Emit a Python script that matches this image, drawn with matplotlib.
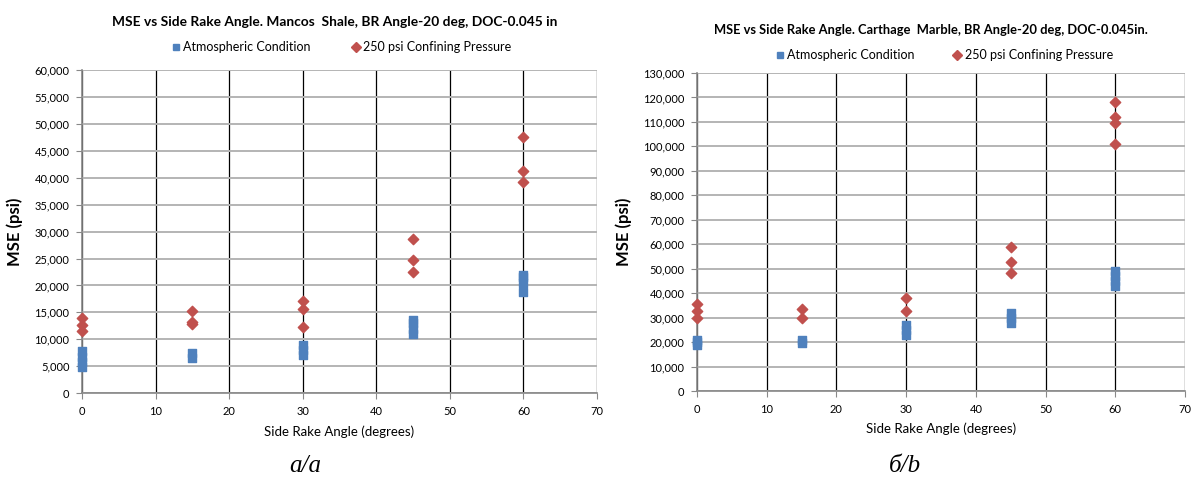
import matplotlib
matplotlib.use("Agg")
import matplotlib.pyplot as plt
from matplotlib.ticker import FuncFormatter, MultipleLocator
from matplotlib.lines import Line2D

# Mancos Shale (left)
shale_atm_x = [0, 0, 0, 0, 15, 15, 30, 30, 30, 45, 45, 45, 45, 60, 60, 60, 60]
shale_atm_y = [4800, 5800, 6800, 7800, 6500, 7500, 7000, 8000, 9000,
               11000, 12000, 13000, 13500, 18800, 20500, 21500, 22000]
shale_250_x = [0, 0, 0, 15, 15, 15, 30, 30, 30, 45, 45, 45, 60, 60, 60]
shale_250_y = [11500, 12700, 14000, 12800, 13200, 15200, 12300, 15600, 17100,
               22500, 24800, 28600, 39200, 41200, 47500]

# Carthage Marble (right)
marble_atm_x = [0, 0, 0, 15, 15, 30, 30, 30, 45, 45, 45, 60, 60, 60, 60]
marble_atm_y = [19000, 20000, 21000, 19500, 21000, 23000, 25000, 27000,
                28000, 30000, 32000, 43000, 45000, 47000, 49000]
marble_250_x = [0, 0, 0, 15, 15, 30, 30, 45, 45, 45, 60, 60, 60, 60]
marble_250_y = [29700, 32700, 35600, 30000, 33500, 32700, 37900,
                48100, 52700, 59000, 101000, 109400, 112100, 118300]

titles = ["MSE vs Side Rake Angle. Mancos  Shale, BR Angle-20 deg, DOC-0.045 in",
          "MSE vs Side Rake Angle. Carthage  Marble, BR Angle-20 deg, DOC-0.045in."]
captions = ["а/a", "б/b"]
legend_labels = ["Atmospheric Condition", "250 psi Confining Pressure"]

BLUE = "#4F81BD"
RED = "#C0504D"
FONT = ["Lato", "DejaVu Sans"]
plt.rcParams["font.family"] = FONT

fig = plt.figure(figsize=(11.92, 4.8), dpi=100)
ax1 = fig.add_axes([0.0688, 0.181, 0.432, 0.673])
ax2 = fig.add_axes([0.5847, 0.1854, 0.4094, 0.6626])

setups = [
    (ax1, shale_atm_x, shale_atm_y, shale_250_x, shale_250_y, 60000, 5000),
    (ax2, marble_atm_x, marble_atm_y, marble_250_x, marble_250_y, 130000, 10000),
]

for ax, ax_x, ax_y, px, py, ymax, ystep in setups:
    ax.set_xlim(0, 70)
    ax.set_ylim(0, ymax)
    ax.xaxis.set_major_locator(MultipleLocator(10))
    ax.yaxis.set_major_locator(MultipleLocator(ystep))
    ax.yaxis.set_major_formatter(FuncFormatter(lambda v, p: f"{int(v):,}"))
    ax.grid(axis="y", color="#b4b4b4", linewidth=1.4, zorder=0)
    ax.grid(axis="x", color="black", linewidth=0.9, zorder=0)
    for s in ["top", "right"]:
        ax.spines[s].set_visible(False)
    for s in ["left", "bottom"]:
        ax.spines[s].set_color("#888888")
        ax.spines[s].set_linewidth(1.2)
    ax.tick_params(axis="both", colors="#888888", length=4, labelsize=8, pad=5)
    ax.tick_params(axis="both", labelcolor="black")
    ax.scatter(ax_x, ax_y, marker="s", s=30, color=BLUE, zorder=3, clip_on=False)
    ax.scatter(px, py, marker="D", s=28, color=RED, zorder=3, clip_on=False)
    ax.set_xlabel("Side Rake Angle (degrees)", fontsize=9.5, labelpad=6)
    ax.set_ylabel("MSE (psi)", fontsize=12, fontweight="bold", labelpad=8)

handles = [Line2D([], [], marker="s", color=BLUE, linestyle="none", markersize=5),
           Line2D([], [], marker="D", color=RED, linestyle="none", markersize=5)]

fig.text(0.281, 0.954, titles[0], ha="center", va="center", fontsize=9.9, fontweight="bold")
fig.text(0.781, 0.937, titles[1], ha="center", va="center", fontsize=9.25, fontweight="bold")

fig.legend(handles, legend_labels, loc="center", bbox_to_anchor=(0.286, 0.902), ncol=2,
           frameon=False, fontsize=9, handletextpad=0.2, columnspacing=3.2, handlelength=0.8)
fig.legend(handles, legend_labels, loc="center", bbox_to_anchor=(0.792, 0.885), ncol=2,
           frameon=False, fontsize=9, handletextpad=0.2, columnspacing=3.0, handlelength=0.8)

fig.text(0.256, 0.03, captions[0], ha="center", va="center", fontsize=18,
         family="Liberation Serif", style="italic")
fig.text(0.759, 0.03, captions[1], ha="center", va="center", fontsize=18,
         family="Liberation Serif", style="italic")

fig.savefig("out.png", dpi=100, facecolor="white")
